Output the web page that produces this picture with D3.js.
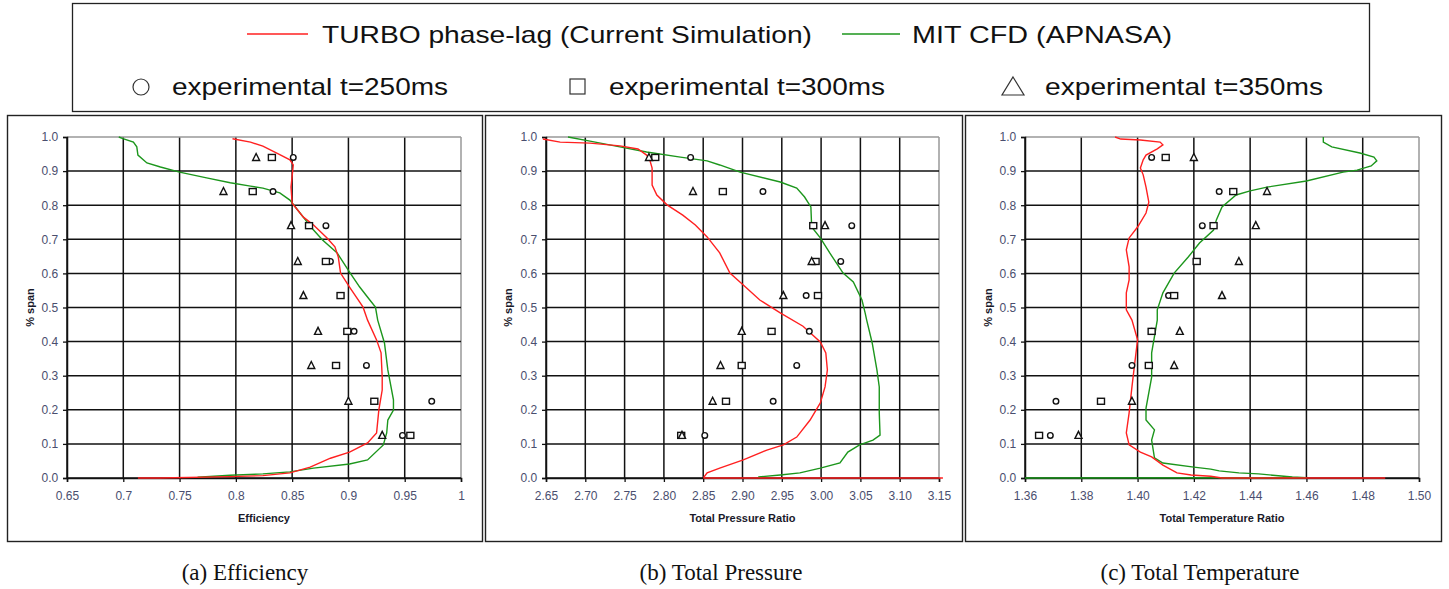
<!DOCTYPE html>
<html>
<head>
<meta charset="utf-8">
<script src="https://cdn.jsdelivr.net/npm/d3@7"></script>
<style>
  body { margin: 0; background: #fff; }
  svg { display: block; }
</style>
</head>
<body>
<svg width="1449" height="589"></svg>
<script>
// experimental span stations (shared by all three panels)
var spanExp = [0.94, 0.84, 0.74, 0.635, 0.535, 0.43, 0.33, 0.225, 0.125];

// (a) efficiency
var eff250 = [0.851, 0.833, 0.880, 0.884, 0.893, 0.905, 0.916, 0.974, 0.948];
var eff300 = [0.832, 0.815, 0.865, 0.880, 0.893, 0.899, 0.889, 0.923, 0.955];
var eff350 = [0.818, 0.789, 0.849, 0.855, 0.860, 0.873, 0.867, 0.900, 0.930];
var effTurbo = [[0.797,0.995],[0.813,0.985],[0.824,0.973],[0.839,0.948],[0.848,0.933],[0.851,0.918],
  [0.849,0.853],[0.850,0.806],[0.860,0.765],[0.869,0.742],[0.881,0.704],[0.888,0.678],[0.891,0.648],
  [0.893,0.601],[0.901,0.560],[0.913,0.501],[0.917,0.463],[0.925,0.405],[0.929,0.367],[0.930,0.296],
  [0.930,0.258],[0.927,0.199],[0.925,0.132],[0.917,0.103],[0.901,0.076],[0.884,0.058],[0.866,0.032],
  [0.848,0.015],[0.824,0.007],[0.795,0.004],[0.733,0.0],[0.713,0.0]];
var effMit = [[0.696,1.0],[0.701,0.994],[0.709,0.985],[0.712,0.971],[0.713,0.947],[0.721,0.924],
  [0.733,0.912],[0.750,0.897],[0.774,0.880],[0.795,0.866],[0.813,0.856],[0.824,0.850],[0.839,0.836],
  [0.848,0.815],[0.857,0.777],[0.869,0.727],[0.877,0.698],[0.890,0.660],[0.901,0.604],[0.910,0.560],
  [0.919,0.522],[0.924,0.501],[0.926,0.463],[0.932,0.396],[0.935,0.317],[0.940,0.229],[0.940,0.199],
  [0.935,0.170],[0.934,0.132],[0.931,0.097],[0.917,0.053],[0.901,0.041],[0.869,0.029],[0.848,0.018],
  [0.824,0.012],[0.795,0.008],[0.766,0.002]];

// (b) total pressure ratio
var pr250 = [2.834, 2.926, 3.039, 3.025, 2.981, 2.985, 2.969, 2.939, 2.852];
var pr300 = [2.789, 2.875, 2.990, 2.993, 2.996, 2.937, 2.899, 2.879, 2.822];
var pr350 = [2.781, 2.837, 3.005, 2.988, 2.952, 2.899, 2.872, 2.862, 2.823];
var prTurbo = [[2.646,0.994],[2.668,0.985],[2.706,0.982],[2.744,0.974],[2.767,0.965],[2.778,0.947],
  [2.782,0.933],[2.785,0.909],[2.785,0.859],[2.791,0.830],[2.804,0.801],[2.824,0.771],[2.840,0.742],
  [2.855,0.707],[2.871,0.660],[2.884,0.601],[2.901,0.566],[2.922,0.522],[2.948,0.484],[2.977,0.445],
  [2.999,0.399],[3.006,0.367],[3.008,0.317],[3.005,0.267],[2.999,0.220],[2.986,0.170],[2.969,0.120],
  [2.952,0.097],[2.931,0.082],[2.901,0.053],[2.871,0.029],[2.855,0.015],[2.851,0.003],[2.851,0.0],[3.155,0.0]];
var prMit = [[2.678,1.0],[2.706,0.988],[2.744,0.971],[2.778,0.956],[2.821,0.941],[2.855,0.930],
  [2.871,0.918],[2.897,0.897],[2.948,0.868],[2.969,0.850],[2.979,0.824],[2.987,0.795],[2.988,0.736],
  [2.999,0.704],[3.011,0.660],[3.028,0.601],[3.041,0.575],[3.052,0.522],[3.056,0.484],[3.058,0.463],
  [3.065,0.396],[3.071,0.317],[3.074,0.267],[3.074,0.191],[3.075,0.126],[3.066,0.111],[3.049,0.097],
  [3.034,0.076],[3.024,0.044],[2.999,0.029],[2.973,0.015],[2.948,0.009],[2.920,0.003]];

// (c) total temperature ratio
var tr250 = [1.405, 1.429, 1.423, 1.421, 1.411, 1.405, 1.398, 1.371, 1.369];
var tr300 = [1.410, 1.434, 1.427, 1.421, 1.413, 1.405, 1.404, 1.387, 1.365];
var tr350 = [1.420, 1.446, 1.442, 1.436, 1.430, 1.415, 1.413, 1.398, 1.379];
var trTurbo = [[1.392,1.0],[1.394,0.994],[1.401,0.991],[1.408,0.985],[1.409,0.977],[1.407,0.965],
  [1.403,0.947],[1.402,0.933],[1.401,0.909],[1.402,0.889],[1.403,0.853],[1.404,0.809],[1.403,0.777],
  [1.400,0.736],[1.397,0.704],[1.396,0.669],[1.397,0.619],[1.397,0.581],[1.396,0.543],[1.396,0.493],
  [1.398,0.463],[1.400,0.405],[1.399,0.337],[1.398,0.267],[1.397,0.191],[1.396,0.132],[1.397,0.097],
  [1.401,0.076],[1.405,0.062],[1.409,0.038],[1.414,0.015],[1.419,0.009],[1.426,0.005],[1.430,0.0],[1.488,0.0]];
var trMit = [[1.466,1.0],[1.466,0.985],[1.469,0.971],[1.479,0.953],[1.484,0.941],[1.485,0.930],
  [1.483,0.915],[1.478,0.903],[1.473,0.897],[1.460,0.871],[1.446,0.853],[1.440,0.842],[1.435,0.830],
  [1.430,0.795],[1.428,0.757],[1.427,0.727],[1.422,0.689],[1.418,0.648],[1.413,0.601],[1.409,0.543],
  [1.407,0.493],[1.407,0.463],[1.405,0.367],[1.405,0.296],[1.403,0.205],[1.403,0.170],[1.406,0.141],
  [1.405,0.111],[1.406,0.059],[1.409,0.044],[1.420,0.032],[1.426,0.026],[1.429,0.021],[1.436,0.015],
  [1.443,0.012],[1.451,0.006],[1.455,0.003],[1.460,0.001],[1.360,0.0]];

// tick labels
var spanTicks = [0, 0.1, 0.2, 0.3, 0.4, 0.5, 0.6, 0.7, 0.8, 0.9, 1.0];
var effTicks = [0.65, 0.7, 0.75, 0.8, 0.85, 0.9, 0.95, 1];
var prTicks = [2.65, 2.70, 2.75, 2.80, 2.85, 2.90, 2.95, 3.00, 3.05, 3.10, 3.15];
var trTicks = [1.36, 1.38, 1.40, 1.42, 1.44, 1.46, 1.48, 1.50];

var svg = d3.select('svg');
var red = '#ff2020';
var green = '#1c961c';

// ---------- legend ----------
var leg = svg.append('g');
leg.append('rect').attr('x', 72.5).attr('y', 3.5).attr('width', 1297).attr('height', 108)
  .attr('fill', 'none').attr('stroke', '#222').attr('stroke-width', 1.3);
leg.append('line').attr('x1', 247).attr('x2', 308).attr('y1', 34).attr('y2', 34)
  .attr('stroke', red).attr('stroke-width', 1.5);
leg.append('text').attr('x', 322).attr('y', 43).attr('textLength', 490).text('TURBO phase-lag (Current Simulation)');
leg.append('line').attr('x1', 842).attr('x2', 900).attr('y1', 34).attr('y2', 34)
  .attr('stroke', green).attr('stroke-width', 1.5);
leg.append('text').attr('x', 912).attr('y', 43).attr('textLength', 260).text('MIT CFD (APNASA)');
leg.append('circle').attr('cx', 141).attr('cy', 87).attr('r', 8)
  .attr('fill', 'none').attr('stroke', '#333').attr('stroke-width', 1.2);
leg.append('text').attr('x', 172).attr('y', 95).attr('textLength', 276).text('experimental t=250ms');
leg.append('rect').attr('x', 570).attr('y', 79).attr('width', 15).attr('height', 15)
  .attr('fill', 'none').attr('stroke', '#333').attr('stroke-width', 1.2);
leg.append('text').attr('x', 609).attr('y', 95).attr('textLength', 276).text('experimental t=300ms');
leg.append('path').attr('d', 'M1013,77 L1024,95 L1002,95 Z')
  .attr('fill', 'none').attr('stroke', '#333').attr('stroke-width', 1.2);
leg.append('text').attr('x', 1045).attr('y', 95).attr('textLength', 278).text('experimental t=350ms');
leg.selectAll('text').attr('font-family', 'Liberation Sans, Arial, sans-serif')
  .attr('font-size', 24).attr('lengthAdjust', 'spacingAndGlyphs').attr('fill', '#111');

// ---------- panels ----------
var panels = [
  { box: [7, 482], plot: [67, 461], dom: [0.65, 1.0], ticks: effTicks, fmt: d3.format('~g'),
    title: 'Efficiency', caption: '(a) Efficiency', capX: 245,
    turbo: effTurbo, mit: effMit, e250: eff250, e300: eff300, e350: eff350 },
  { box: [485, 962], plot: [546, 939], dom: [2.65, 3.15], ticks: prTicks, fmt: d3.format('.2f'),
    title: 'Total Pressure Ratio', caption: '(b) Total Pressure', capX: 721,
    turbo: prTurbo, mit: prMit, e250: pr250, e300: pr300, e350: pr350 },
  { box: [965, 1441], plot: [1025, 1419], dom: [1.36, 1.50], ticks: trTicks, fmt: d3.format('.2f'),
    title: 'Total Temperature Ratio', caption: '(c) Total Temperature', capX: 1200,
    turbo: trTurbo, mit: trMit, e250: tr250, e300: tr300, e350: tr350 }
];

var y = d3.scaleLinear().domain([0, 1]).range([478, 137]);

panels.forEach(function(p) {
  var g = svg.append('g');
  var x = d3.scaleLinear().domain(p.dom).range(p.plot);

  // outer box
  g.append('rect').attr('x', p.box[0] + 0.5).attr('y', 115.5)
    .attr('width', p.box[1] - p.box[0]).attr('height', 426)
    .attr('fill', 'none').attr('stroke', '#222').attr('stroke-width', 1.4);

  // grid
  g.selectAll('.vg').data(p.ticks).enter().append('line')
    .attr('x1', function(d) { return x(d); }).attr('x2', function(d) { return x(d); })
    .attr('y1', y(0)).attr('y2', y(1))
    .attr('stroke', function(d, i) { return i === p.ticks.length - 1 ? '#999' : '#111'; })
    .attr('stroke-width', 1.5);
  g.selectAll('.hg').data(spanTicks).enter().append('line')
    .attr('x1', p.plot[0]).attr('x2', p.plot[1])
    .attr('y1', function(d) { return y(d); }).attr('y2', function(d) { return y(d); })
    .attr('stroke', function(d) { return d === 1 ? '#999' : '#111'; })
    .attr('stroke-width', 1.5);

  // axes
  var xa = g.append('g').attr('transform', 'translate(0,' + y(0) + ')')
    .call(d3.axisBottom(x).tickValues(p.ticks).tickFormat(p.fmt).tickSizeOuter(0).tickSize(4));
  var ya = g.append('g').attr('transform', 'translate(' + p.plot[0] + ',0)')
    .call(d3.axisLeft(y).tickValues(spanTicks).tickFormat(d3.format('.1f')).tickSizeOuter(0).tickSize(4));
  [xa, ya].forEach(function(a) {
    a.select('.domain').attr('stroke', '#111').attr('stroke-width', 1.5);
    a.selectAll('.tick line').attr('stroke', '#111').attr('stroke-width', 1.3);
    a.selectAll('text').attr('font-family', 'Liberation Sans, Arial, sans-serif')
      .attr('font-size', 12).attr('fill', '#4a4e6e');
  });
  xa.selectAll('text').attr('dy', '1.25em');
  ya.selectAll('text').attr('dx', '-0.15em');

  // axis titles
  g.append('text').attr('x', (p.plot[0] + p.plot[1]) / 2).attr('y', 522)
    .attr('text-anchor', 'middle').text(p.title);
  g.append('text').attr('text-anchor', 'middle').text('% span')
    .attr('transform', 'translate(' + (p.box[0] + 27) + ',' + ((y(0) + y(1)) / 2) + ') rotate(-90)');
  g.selectAll(':scope > text').attr('font-family', 'Liberation Sans, Arial, sans-serif')
    .attr('font-size', 11).attr('font-weight', 'bold').attr('fill', '#1a1a2a');

  // lines
  var line = d3.line().x(function(d) { return x(d[0]); }).y(function(d) { return y(d[1]); });
  g.append('path').datum(p.mit).attr('d', line).attr('fill', 'none')
    .attr('stroke', green).attr('stroke-width', 1.4);
  g.append('path').datum(p.turbo).attr('d', line).attr('fill', 'none')
    .attr('stroke', red).attr('stroke-width', 1.4);

  // experimental markers
  var mk = g.append('g').attr('fill', 'white').attr('stroke', '#111').attr('stroke-width', 1.4);
  mk.selectAll('.c').data(p.e250).enter().append('circle')
    .attr('cx', function(d) { return x(d); })
    .attr('cy', function(d, i) { return y(spanExp[i]); })
    .attr('r', 2.8);
  mk.selectAll('.s').data(p.e300).enter().append('rect')
    .attr('x', function(d) { return x(d) - 3.5; })
    .attr('y', function(d, i) { return y(spanExp[i]) - 3; })
    .attr('width', 7).attr('height', 6);
  mk.selectAll('.t').data(p.e350).enter().append('path')
    .attr('d', function(d, i) {
      var cx = x(d), cy = y(spanExp[i]);
      return 'M' + cx + ',' + (cy - 4) + ' L' + (cx + 3.5) + ',' + (cy + 3) + ' L' + (cx - 3.5) + ',' + (cy + 3) + ' Z';
    });

  // caption
  svg.append('text').attr('x', p.capX).attr('y', 580)
    .attr('text-anchor', 'middle').attr('font-family', 'Liberation Serif, Times New Roman, serif')
    .attr('font-size', 23).attr('fill', '#111').text(p.caption);
});
</script>
</body>
</html>
